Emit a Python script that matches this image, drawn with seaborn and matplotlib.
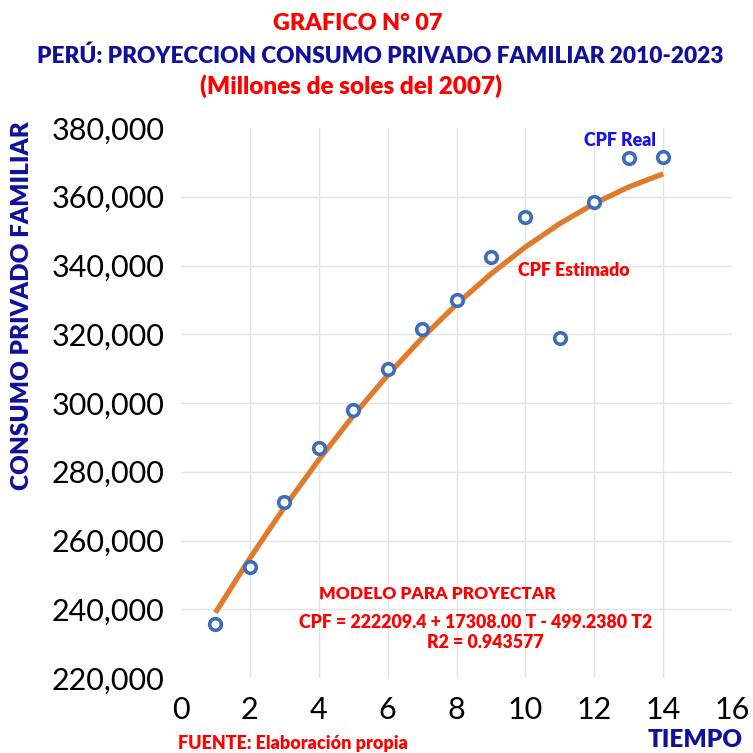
import matplotlib
matplotlib.use("Agg")
import matplotlib.pyplot as plt
import seaborn as sns
import pandas as pd
from matplotlib.ticker import FuncFormatter

# Data
tiempo = [1, 2, 3, 4, 5, 6, 7, 8, 9, 10, 11, 12, 13, 14]
cpf_real = [235600, 252400, 271100, 286800, 298100, 310000,
            321400, 330100, 342600, 354000, 318800, 358600,
            371400, 371700]
cpf_estimado = [239018, 254828, 269640, 283454, 296269, 308085,
                318903, 328722, 337543, 345366, 352190, 358015,
                362842, 366671]

df = pd.DataFrame({"T": tiempo, "real": cpf_real, "est": cpf_estimado})

sns.set_style("white")
plt.rcParams["font.family"] = ["Lato", "DejaVu Sans"]

W = H = 753
fig = plt.figure(figsize=(7.53, 7.53), dpi=100)
ax = fig.add_axes([181 / W, 1 - 678 / H, (732 - 181) / W, (678 - 128) / H])

red = "#FF0000"
navy = "#10109A"
orange = "#E07B2C"
blue_pt = "#3B6DB8"

sns.lineplot(data=df, x="T", y="est", ax=ax, color=orange, linewidth=3.8,
             solid_capstyle="butt", zorder=3)
sns.scatterplot(data=df, x="T", y="real", ax=ax, marker="o", s=70,
                facecolor="white", edgecolor=blue_pt, linewidth=2.6, zorder=4)

ax.set_xlim(0, 16)
ax.set_ylim(220000, 380000)
ax.set_xticks(range(0, 17, 2))
ax.set_yticks(range(220000, 380001, 20000))
ax.yaxis.set_major_formatter(FuncFormatter(lambda v, p: f"{int(v):,}"))
ax.tick_params(axis="both", labelsize=22, length=0, colors="black")
ax.tick_params(axis="x", pad=13)
ax.tick_params(axis="y", pad=12)
ax.set_xlabel("")
ax.set_ylabel("")
for s in ax.spines.values():
    s.set_visible(False)

ax.grid(True, color="#E3E3E3", linewidth=1.0)
ax.set_axisbelow(True)
# Excel style: no gridlines on the plot borders
xg = ax.get_xgridlines()
yg = ax.get_ygridlines()
xg[0].set_visible(False)
xg[-1].set_visible(False)
yg[0].set_visible(False)
yg[-1].set_visible(False)


def ftext(x, y, s, **kw):
    fig.text(x / W, 1 - y / H, s, ha="center", va="center",
             fontweight="heavy", **kw)


ftext(358, 23, "GRAFICO N° 07", color=red, fontsize=16.8)
ftext(380, 56, "PERÚ: PROYECCION CONSUMO PRIVADO FAMILIAR 2010-2023",
      color=navy, fontsize=16.3)
ftext(351, 86, "(Millones de soles del 2007)", color=red, fontsize=17.5)
ftext(22, 306, "CONSUMO PRIVADO FAMILIAR", color=navy, fontsize=17.5,
      rotation=90)
ftext(695, 740, "TIEMPO", color=navy, fontsize=17.5)
ftext(293, 743, "FUENTE: Elaboración propia", color=red, fontsize=13)

ftext(620, 140, "CPF Real", color="#1414E6", fontsize=12.8)
ftext(574, 271, "CPF Estimado", color=red, fontsize=12.8)
ftext(437, 594, "MODELO PARA PROYECTAR", color=red, fontsize=12.5)
ftext(476, 622, "CPF = 222209.4 + 17308.00 T - 499.2380 T2", color=red,
      fontsize=12.8)
ftext(485, 643, "R2 = 0.943577", color=red, fontsize=12.8)

fig.savefig("out.png", dpi=100)
